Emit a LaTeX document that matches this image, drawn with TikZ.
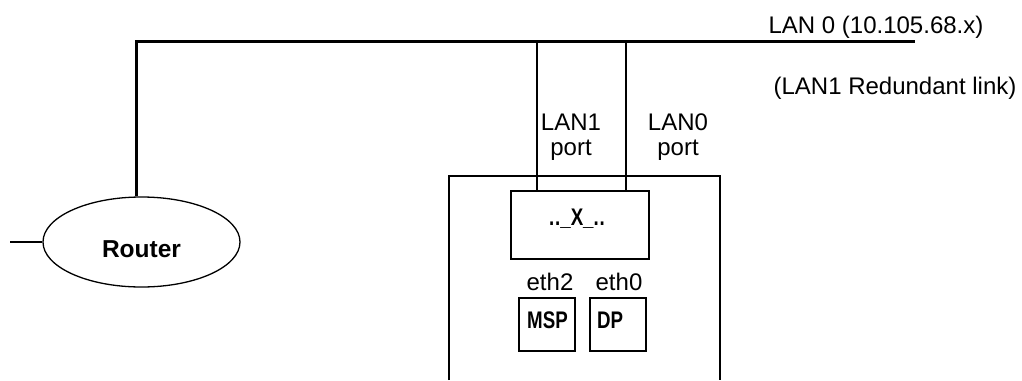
\documentclass[tikz,border=0pt]{standalone}
\usepackage{fontspec}
\setmainfont{Liberation Sans}
\usetikzlibrary{shapes.geometric}
\newcommand{\narrowbf}[1]{\scalebox{0.78}[1]{\bfseries #1}}
\tikzset{
  box/.style={draw, line width=2pt, inner sep=0pt},
  lbl/.style={anchor=base, inner sep=0pt},
}
\begin{document}
\begin{tikzpicture}[x=1pt,y=-1pt,font=\fontsize{24}{28}\selectfont]
\useasboundingbox (0,0) rectangle (1022,380);
% router
\node[draw, ellipse, line width=1.3pt, minimum width=197pt, minimum height=90pt] (router) at (141.5,242) {};
\node[lbl, font=\fontsize{24.5}{28}\selectfont\bfseries] (routerlbl) at (141.5,257) {Router};
% LAN 0 bus
\coordinate (lanL) at (136,41);
\coordinate (lanR) at (915,41);
\coordinate (stub) at (10,242);
\draw[line width=3pt] (router.north -| lanL) -- (lanL) -- (lanR);
\draw[line width=2pt] (stub) -- (router.west);
\node[lbl] (lan0) at (876,33) {LAN 0 (10.105.68.x)};
\node[lbl] (red) at (895,94) {(LAN1 Redundant link)};
% outer box (open at bottom)
\coordinate (obl) at (449,380);
\coordinate (otl) at (449,176);
\coordinate (otr) at (720,176);
\coordinate (obr) at (720,380);
\draw[line width=2pt] (obl) -- (otl) -- (otr) -- (obr);
% inner switch box
\node[box, minimum width=138pt, minimum height=68pt] (xbox) at (580,225) {};
\node[lbl] (xlbl) at (577,225) {\narrowbf{.\kern1pt.\_X\_.\kern1pt.}};
% drops
\coordinate (lan1top) at (537,41);
\coordinate (lan0top) at (626,41);
\draw[line width=2pt] (lan1top) -- (lan1top |- xbox.north);
\draw[line width=2pt] (lan0top) -- (lan0top |- xbox.north);
\node[lbl] (lan1a) at (571,130) {LAN1};
\node[lbl] (lan1b) at (571,155) {port};
\node[lbl] (lan0a) at (678,130) {LAN0};
\node[lbl] (lan0b) at (678,155) {port};
% MSP / DP
\node[box, minimum width=56pt, minimum height=53pt] (msp) at (547,324.5) {};
\node[box, minimum width=56pt, minimum height=53pt] (dp) at (618,324.5) {};
\node[lbl, anchor=base west] (msplbl) at (527,328) {\narrowbf{MSP}};
\node[lbl, anchor=base west] (dplbl) at (597,328) {\narrowbf{DP}};
\node[lbl] (eth2) at (550,290) {eth2};
\node[lbl] (eth0) at (619,290) {eth0};
\end{tikzpicture}
\end{document}
